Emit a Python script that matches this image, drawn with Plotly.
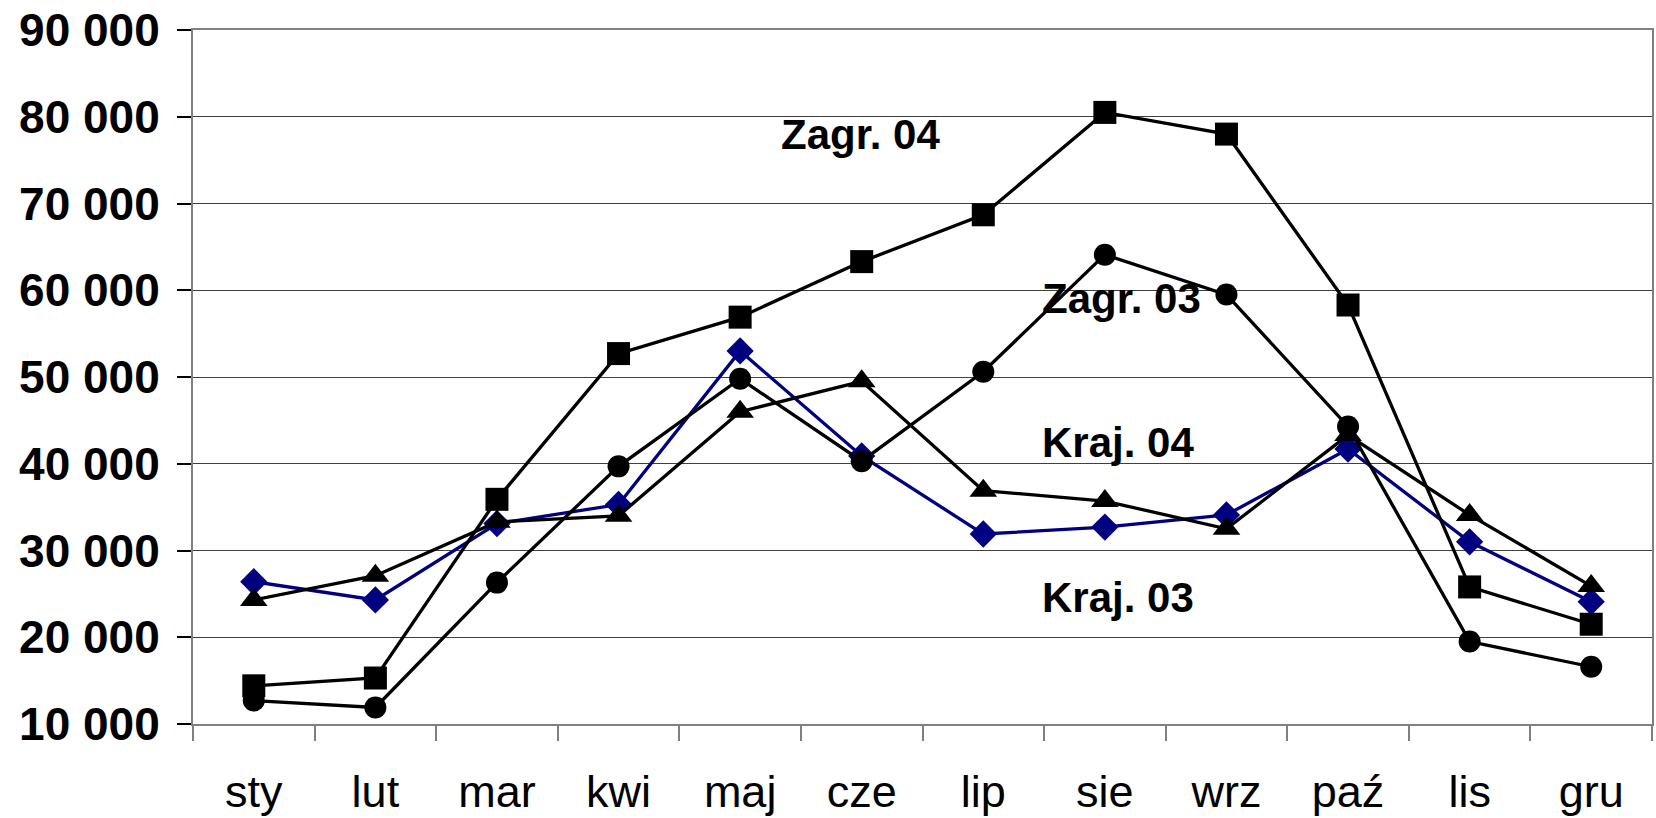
import plotly.graph_objects as go

months = ['sty', 'lut', 'mar', 'kwi', 'maj', 'cze', 'lip', 'sie', 'wrz', 'paź', 'lis', 'gru']

# values
zagr_04 = [14400, 15300, 35900, 52700, 56900, 63300, 68700, 80500, 78000, 58300, 25800, 21500]
zagr_03 = [12700, 11900, 26300, 39700, 49800, 40300, 50600, 64100, 59500, 44300, 19500, 16600]
kraj_04 = [24300, 27100, 33300, 34000, 46000, 49500, 36900, 35700, 32500, 43300, 34100, 25900]
kraj_03 = [26400, 24300, 33100, 35300, 53000, 40900, 31900, 32700, 34100, 41700, 31000, 24100]

y_ticks = [10000, 20000, 30000, 40000, 50000, 60000, 70000, 80000, 90000]
y_labels = ['10 000', '20 000', '30 000', '40 000', '50 000', '60 000', '70 000', '80 000', '90 000']

fig = go.Figure()

fig.add_trace(go.Scatter(x=months, y=kraj_03, name='Kraj. 03', mode='lines+markers',
                         line=dict(color='#000080', width=3.3),
                         marker=dict(symbol='diamond', size=21, color='#000080')))
fig.add_trace(go.Scatter(x=months, y=kraj_04, name='Kraj. 04', mode='lines+markers',
                         line=dict(color='black', width=3.3),
                         marker=dict(symbol='triangle-up', size=24, color='black')))
fig.add_trace(go.Scatter(x=months, y=zagr_04, name='Zagr. 04', mode='lines+markers',
                         line=dict(color='black', width=3.3),
                         marker=dict(symbol='square', size=23, color='black')))
fig.add_trace(go.Scatter(x=months, y=zagr_03, name='Zagr. 03', mode='lines+markers',
                         line=dict(color='black', width=3.3),
                         marker=dict(symbol='circle', size=22, color='black')))

# series labels inside the plot
label_font = dict(family='Liberation Sans', size=42, color='black')
fig.add_annotation(x=4.32, y=78000, text='<b>Zagr. 04</b>', showarrow=False,
                   xanchor='left', yanchor='middle', font=label_font)
fig.add_annotation(x=6.47, y=59000, text='<b>Zagr. 03</b>', showarrow=False,
                   xanchor='left', yanchor='middle', font=label_font)
fig.add_annotation(x=6.47, y=42400, text='<b>Kraj. 04</b>', showarrow=False,
                   xanchor='left', yanchor='middle', font=label_font)
fig.add_annotation(x=6.47, y=24600, text='<b>Kraj. 03</b>', showarrow=False,
                   xanchor='left', yanchor='middle', font=label_font)

fig.update_layout(
    width=1656, height=818,
    margin=dict(l=193, r=4, t=29.6, b=93.5),
    paper_bgcolor='white', plot_bgcolor='white',
    showlegend=False,
    font=dict(family='Liberation Sans', color='black'),
)

fig.update_xaxes(
    type='category', range=[-0.5, 11.5], automargin=False,
    showgrid=False, tickson='boundaries',
    ticks='outside', ticklen=15, tickwidth=1.5, tickcolor='#808080',
    showline=True, linecolor='#808080', linewidth=2, mirror=True,
    tickfont=dict(family='Liberation Sans', size=45, color='black'),
    ticklabelstandoff=27, ticklabeloverflow='allow',
)
fig.update_yaxes(
    range=[10000, 90000], tickvals=y_ticks, ticktext=y_labels, automargin=False,
    showgrid=True, gridcolor='#404040', gridwidth=1.3,
    ticks='outside', ticklen=14, tickwidth=1.5, tickcolor='black',
    showline=True, linecolor='#808080', linewidth=2, mirror=True,
    tickfont=dict(family='Liberation Sans', size=46, color='black', weight='bold'),
    ticklabelstandoff=8, ticklabeloverflow='allow', zeroline=False,
)

# drop the default page margin so the figure fills the window from the corner
fig.write_html("out.html", config={'displayModeBar': False},
               post_script="document.body.style.margin='0';")
